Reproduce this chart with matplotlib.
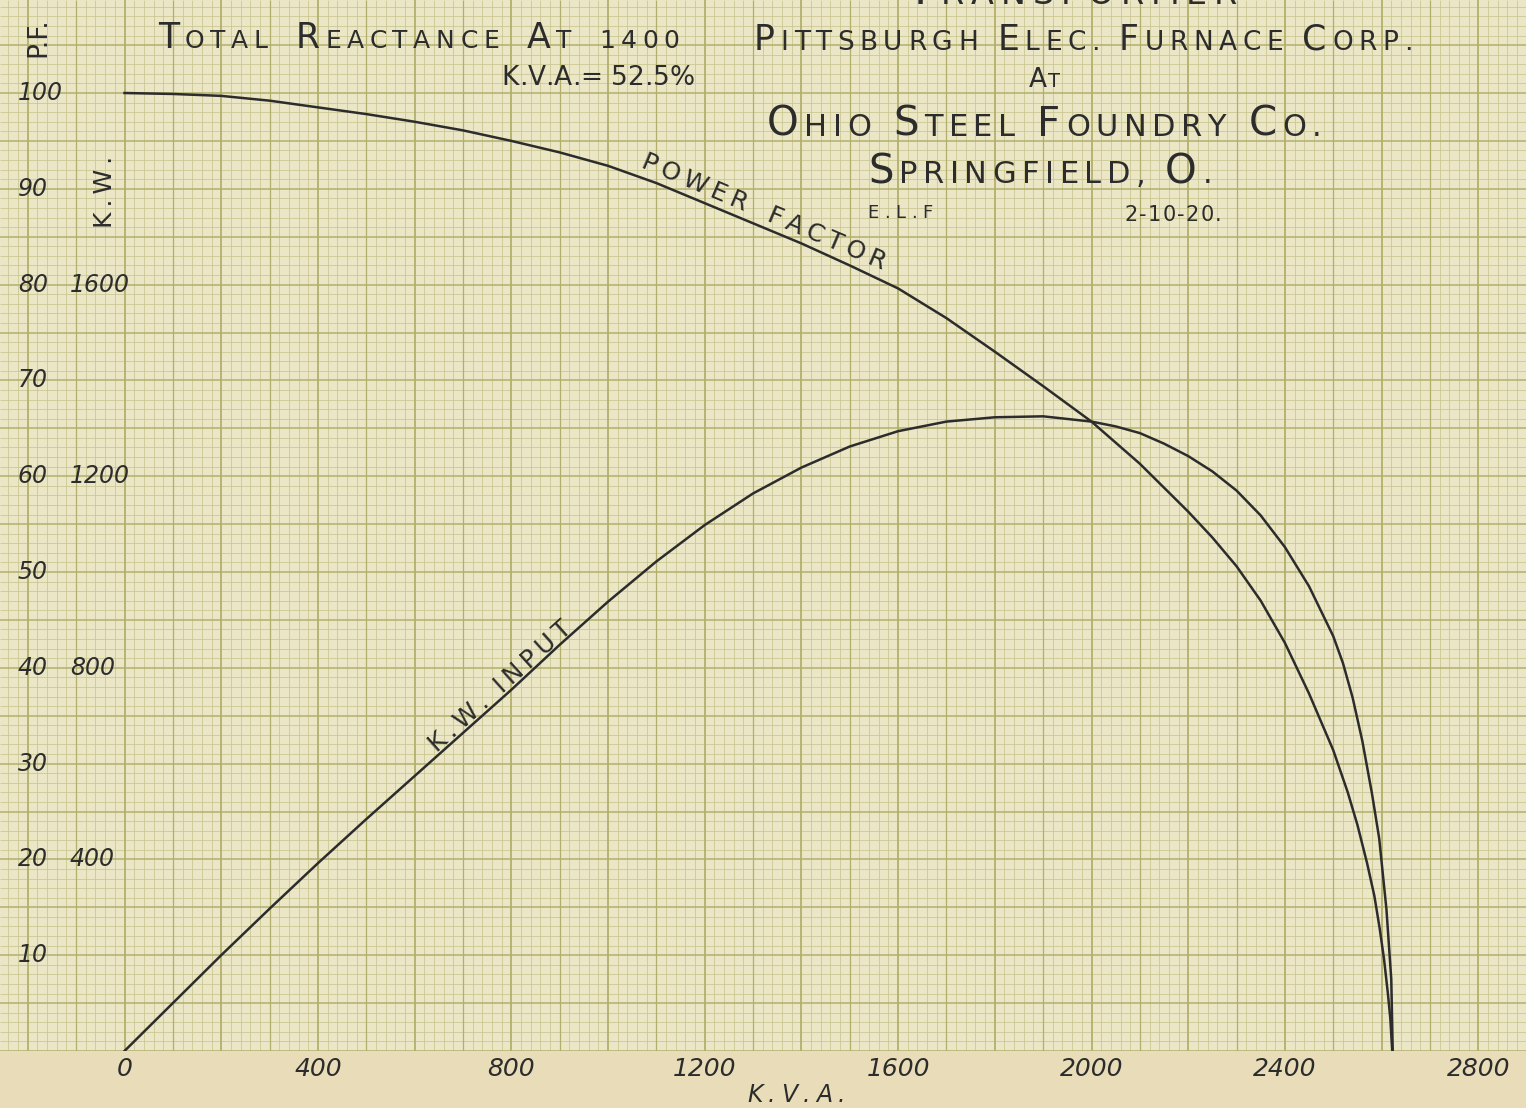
import numpy as np
import matplotlib.pyplot as plt
from matplotlib.offsetbox import TextArea, HPacker, AnnotationBbox

# -------  Test readings ------- #

kva_pf = [0, 100, 200, 300, 400, 500, 600, 700, 800, 900, 1000, 1100, 1200, 1300,
          1400, 1500, 1600, 1700, 1800, 1900, 2000, 2100, 2200, 2250, 2300, 2350,
          2400, 2450, 2500, 2530, 2550, 2570, 2585, 2596, 2605, 2613, 2618, 2622]
power_factor = [100, 99.9, 99.7, 99.2, 98.5, 97.8, 97.0, 96.1, 95.0, 93.8, 92.4, 90.6,
                88.5, 86.4, 84.3, 82.0, 79.6, 76.5, 73.0, 69.4, 65.7, 61.3, 56.3, 53.6,
                50.6, 47.0, 42.6, 37.3, 31.4, 27.0, 23.6, 19.6, 16.2, 12.8, 9.6, 6.0, 3.4, 0]

kva_kw = [0, 100, 200, 300, 400, 500, 600, 700, 800, 900, 1000, 1100, 1200, 1300,
          1400, 1500, 1600, 1700, 1800, 1900, 2000, 2050, 2100, 2150, 2200, 2250, 2300,
          2350, 2400, 2450, 2500, 2520, 2540, 2560, 2580, 2595, 2610, 2620, 2623]
kw_input = [0, 100, 200, 297, 392, 484, 574, 664, 754, 848, 938, 1022, 1098, 1164,
            1218, 1262, 1294, 1314, 1323, 1325, 1314, 1304, 1290, 1268, 1242, 1210, 1170,
            1118, 1052, 970, 866, 810, 738, 648, 538, 444, 296, 150, 0]

kva_ticks = [0, 400, 800, 1200, 1600, 2000, 2400, 2800]
pf_ticks = [10, 20, 30, 40, 50, 60, 70, 80, 90, 100]
kw_ticks = [400, 800, 1200, 1600]

# -------  Paper and ink ------- #

W, H = 1526, 1108
paper = '#ebe7c6'
margin = '#e8ddb8'
fine_col = '#c8c590'
grid_col = '#b2af6c'
ink = '#2c2c2c'

kva_per_px = 200 / 96.7
x0_px = 124.5
pf_per_px = 1 / 9.58
y0_px = 1051

fig = plt.figure(figsize=(W / 100, H / 100), dpi=100, facecolor=margin)
ax = fig.add_axes([0, (H - y0_px) / H, 1, y0_px / H])
ax.set_facecolor(paper)
ax.set_xlim(-x0_px * kva_per_px, (W - x0_px) * kva_per_px)
ax.set_ylim(0, y0_px * pf_per_px)
for s in ax.spines.values():
    s.set_visible(False)

# graph paper: fine lines every 20 kVA / 1 %, heavier every 100 / 5, heaviest every 200
xmin, xmax = ax.get_xlim()
ymin, ymax = ax.get_ylim()
xs = np.arange(-260, 2920, 20)
ys = np.arange(0, 111, 1)
ax.vlines(xs[xs % 100 != 0], ymin, ymax, color=fine_col, lw=0.55, zorder=1)
ax.hlines(ys[ys % 5 != 0], xmin, xmax, color=fine_col, lw=0.55, zorder=1)
ax.vlines(xs[(xs % 100 == 0) & (xs % 200 != 0)], ymin, ymax, color=grid_col, lw=0.9, zorder=1)
ax.vlines(xs[xs % 200 == 0], ymin, ymax, color=grid_col, lw=1.3, zorder=1)
ax.hlines(ys[ys % 5 == 0], xmin, xmax, color=grid_col, lw=1.1, zorder=1)

# -------  Curves ------- #

ax.plot(kva_pf, power_factor, color=ink, lw=1.8, solid_joinstyle='round', zorder=3)

ax2 = ax.twinx()
ax2.set_ylim(0, y0_px * pf_per_px * 20)
ax2.axis('off')
ax2.plot(kva_kw, kw_input, color=ink, lw=1.8, solid_joinstyle='round', zorder=3)

# -------  Scales ------- #

ax.set_xticks(kva_ticks)
ax.set_xticklabels([str(v) for v in kva_ticks], fontsize=18, style='italic', color=ink)
ax.tick_params(axis='x', length=0, pad=4)
ax.set_yticks([])

for v in pf_ticks:
    ax.text(18 / W, v, str(v), transform=ax.get_yaxis_transform(), ha='left', va='center',
            fontsize=17, style='italic', color=ink)
for v in kw_ticks:
    ax2.text(70 / W, v, str(v), transform=ax2.get_yaxis_transform(), ha='left', va='center',
             fontsize=17, style='italic', color=ink)


# -------  Lettering ------- #

def lettering(x, y, text, big, small=None, track=2, gap=12, italic=False, va=0.5):
    words = []
    for w in text.split(' '):
        chars = []
        for i, c in enumerate(w):
            size = big if small is None or (i == 0 and c.isalpha()) else small
            chars.append(TextArea(c, textprops=dict(size=size, color=ink,
                                                    style='italic' if italic else 'normal')))
        words.append(HPacker(children=chars, align='baseline', pad=0, sep=track))
    box = HPacker(children=words, align='baseline', pad=0, sep=gap)
    fig.add_artist(AnnotationBbox(box, (x / W, 1 - y / H), xycoords='figure fraction',
                                  frameon=False, box_alignment=(0.5, va), zorder=5))


thin = '\u2009'

lettering(1072, 13, 'TRANSFORMER', 32, 24, track=5, va=0)
lettering(419, 38, 'TOTAL REACTANCE AT 1400', 25, 18, track=4, gap=20)
lettering(598, 78, 'K.V.A.= 52.5%', 19, track=0, gap=6)
lettering(1083, 40, 'PITTSBURGH ELEC. FURNACE CORP.', 25, 19, track=4, gap=14)
lettering(1044, 80, 'AT', 19, 14, track=1)
lettering(1044, 125, 'OHIO STEEL FOUNDRY CO.', 29, 22, track=4, gap=16)
lettering(1040, 172, 'SPRINGFIELD, O.', 29, 22, track=4, gap=14)
lettering(900, 213, 'E.L.F', 13, track=4)
lettering(1173, 215, '2-10-20.', 15, track=1)
lettering(796, 1095, 'K.V.A.', 17, track=4, italic=True)

fig.text(38 / W, 1 - 37 / H, 'P.F.', rotation=90, ha='center', va='center',
         fontsize=19, color=ink)
fig.text(105 / W, 1 - 192 / H, thin.join('K.W.'), rotation=90, ha='center', va='center',
         fontsize=18, color=ink)
fig.text(764 / W, 1 - 212 / H, thin.join('POWER') + '   ' + thin.join('FACTOR'),
         rotation=-23, rotation_mode='anchor', ha='center', va='center',
         fontsize=18, color=ink)
fig.text(500 / W, 1 - 686 / H, thin.join('K.W.') + '  ' + thin.join('INPUT'),
         rotation=42, rotation_mode='anchor', ha='center', va='center',
         fontsize=18, color=ink)

fig.savefig('out.png', dpi=100, facecolor=margin)
